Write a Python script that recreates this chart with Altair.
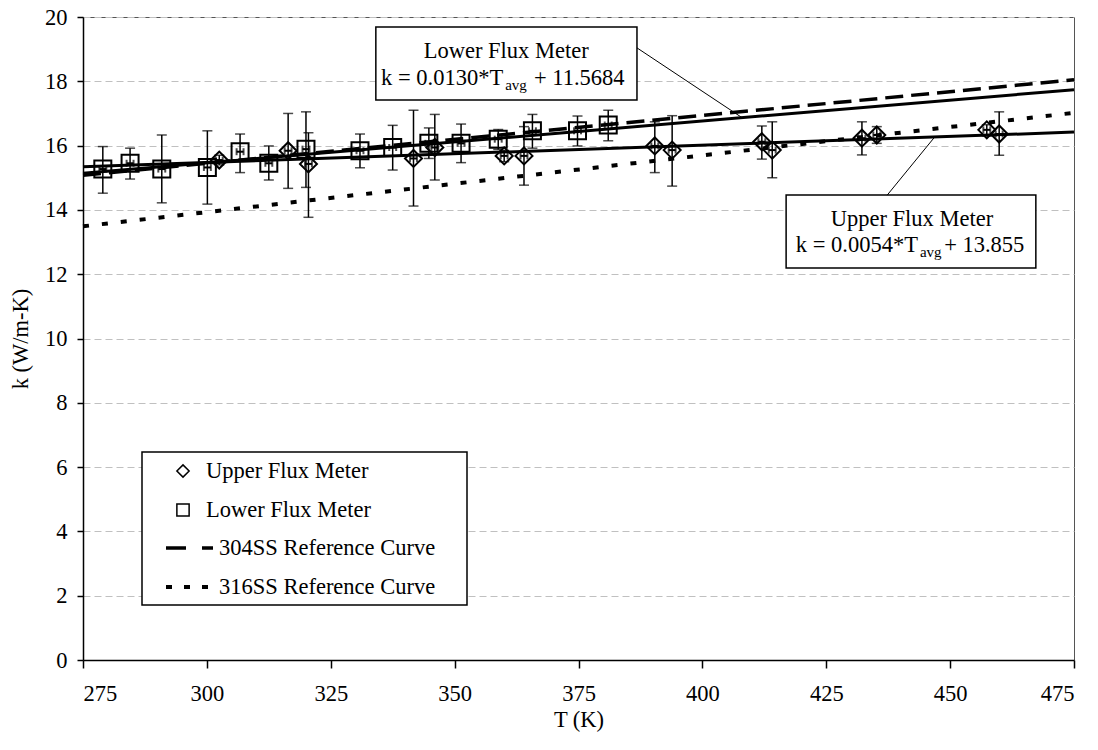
import altair as alt
import pandas as pd

FONT = "Liberation Serif"

# ---- data ----
lower_T = [279.0, 284.5, 290.9, 300.1, 306.7, 312.5, 320.0, 330.9, 337.5, 344.8, 351.3, 358.8, 365.7, 374.8, 381.0]
lower_k = [15.27, 15.45, 15.27, 15.32, 15.81, 15.45, 15.89, 15.84, 15.94, 16.07, 16.07, 16.20, 16.46, 16.46, 16.64]
lower_hi = [15.97, 15.92, 16.33, 16.46, 16.36, 15.99, 17.05, 16.36, 16.63, 16.55, 16.67, 16.50, 16.97, 16.92, 17.10]
lower_lo = [14.52, 14.96, 14.22, 14.18, 15.16, 14.93, 14.70, 15.31, 15.24, 15.60, 15.47, 15.88, 15.92, 15.99, 16.15]

upper_T = [302.5, 316.4, 320.5, 341.7, 346.0, 360.0, 364.0, 390.4, 393.9, 412.0, 414.1, 432.2, 435.2, 457.4, 459.9]
upper_k = [15.55, 15.84, 15.43, 15.60, 15.94, 15.68, 15.68, 15.99, 15.86, 16.12, 15.86, 16.23, 16.33, 16.49, 16.36]
upper_hi = [15.70, 17.00, 16.40, 17.10, 16.97, 15.85, 16.59, 16.74, 16.93, 16.61, 16.74, 16.74, 16.59, 16.65, 17.05]
upper_lo = [15.40, 14.67, 13.77, 14.12, 14.93, 15.50, 14.77, 15.16, 14.74, 15.58, 15.00, 15.71, 16.07, 16.30, 15.70]

x_err = 0.7  # small horizontal error bar (K)

fit_T = [275, 475]
lower_fit_k = [15.14, 17.74]   # k = 0.0130*T + 11.5684
upper_fit_k = [15.34, 16.42]   # k = 0.0054*T + 13.855

ss304_T = [275, 475]
ss304_k = [15.08, 18.05]
ss316_T = [275, 475]
ss316_k = [13.49, 17.02]

x_ticks = [275, 300, 325, 350, 375, 400, 425, 450, 475]
y_ticks = [0, 2, 4, 6, 8, 10, 12, 14, 16, 18, 20]

# ---- scales ----
xs = alt.Scale(domain=[275, 475], nice=False, zero=False)
ys = alt.Scale(domain=[0, 20], nice=False, zero=True)

X = alt.X("T:Q", scale=xs, axis=alt.Axis(
    values=x_ticks, title="T (K)", grid=False, tickSize=8, labelPadding=14,
    titlePadding=4))
Y = alt.Y("k:Q", scale=ys, axis=alt.Axis(
    values=y_ticks, title="k (W/m-K)", grid=True, gridDash=[7, 4],
    gridColor="#c0c0c0", gridWidth=1, tickSize=6, labelPadding=10,
    titlePadding=12))


def pts(T, k, lo, hi):
    return pd.DataFrame({"T": T, "k": k, "lo": lo, "hi": hi,
                         "Tl": [t - x_err for t in T], "Tr": [t + x_err for t in T]})


up = pts(upper_T, upper_k, upper_lo, upper_hi)
lw = pts(lower_T, lower_k, lower_lo, lower_hi)


def errlayers(df):
    base = alt.Chart(df)
    return [
        base.mark_rule(color="black", strokeWidth=1.5).encode(x=X, y=alt.Y("lo:Q", scale=ys), y2="hi:Q"),
        base.mark_tick(color="black", orient="horizontal", size=10, thickness=1.5).encode(x=X, y=alt.Y("lo:Q", scale=ys)),
        base.mark_tick(color="black", orient="horizontal", size=10, thickness=1.5).encode(x=X, y=alt.Y("hi:Q", scale=ys)),
        base.mark_rule(color="black", strokeWidth=2).encode(x=alt.X("Tl:Q", scale=xs), x2="Tr:Q", y=Y),
        base.mark_tick(color="black", orient="vertical", size=7, thickness=2).encode(x=alt.X("Tl:Q", scale=xs), y=Y),
        base.mark_tick(color="black", orient="vertical", size=7, thickness=2).encode(x=alt.X("Tr:Q", scale=xs), y=Y),
    ]


def line(T, k, dash=None, width=3):
    kw = dict(color="black", strokeWidth=width)
    if dash:
        kw["strokeDash"] = dash
    return alt.Chart(pd.DataFrame({"T": T, "k": k})).mark_line(**kw).encode(x=X, y=Y)


layers = []
layers.append(line(ss316_T, ss316_k, dash=[6, 13], width=4))
layers.append(line(ss304_T, ss304_k, dash=[18, 8], width=3.5))
layers.append(line(fit_T, lower_fit_k, width=3))
layers.append(line(fit_T, upper_fit_k, width=3))
layers += errlayers(up)
layers += errlayers(lw)
layers.append(alt.Chart(up).mark_point(shape="diamond", size=289, filled=False, color="black", strokeWidth=2, opacity=1).encode(x=X, y=Y))
layers.append(alt.Chart(lw).mark_point(shape="square", size=289, filled=False, color="black", strokeWidth=2, opacity=1).encode(x=X, y=Y))

# ---- annotation boxes (data coordinates) ----
boxes = pd.DataFrame({"x1": [334.1, 416.9], "x2": [386.8, 467.3],
                      "y1": [19.69, 14.46], "y2": [17.42, 12.19]})
layers.append(alt.Chart(boxes).mark_rect(fill="white", stroke="black", strokeWidth=1.5).encode(
    x=alt.X("x1:Q", scale=xs), x2="x2:Q", y=alt.Y("y1:Q", scale=ys), y2="y2:Q"))

leaders = pd.DataFrame({"x1": [386.8, 437.3], "x2": [408.0, 446.9],
                        "y1": [19.04, 14.46], "y2": [16.87, 16.27]})
layers.append(alt.Chart(leaders).mark_rule(color="black", strokeWidth=1).encode(
    x=alt.X("x1:Q", scale=xs), x2="x2:Q", y=alt.Y("y1:Q", scale=ys), y2="y2:Q"))

FS = 22.5
SUB = 15


def txt(rows, align, size):
    df = pd.DataFrame(rows, columns=["T", "k", "t"])
    return alt.Chart(df).mark_text(font=FONT, fontSize=size, align=align, baseline="alphabetic", color="black").encode(
        x=alt.X("T:Q", scale=xs), y=alt.Y("k:Q", scale=ys), text="t:N")


layers.append(txt([[360.4, 18.72, "Lower Flux Meter"], [442.3, 13.50, "Upper Flux Meter"]], "center", FS))
layers.append(txt([[359.8, 17.88, "k = 0.0130*T"], [443.5, 12.69, "k = 0.0054*T"]], "right", FS))
layers.append(txt([[360.2, 17.73, "avg"], [443.9, 12.53, "avg"]], "left", SUB))
layers.append(txt([[366.0, 17.88, "+ 11.5684"], [448.8, 12.69, "+ 13.855"]], "left", FS))

# ---- manual legend (pixel positions inside plot area) ----
one = pd.DataFrame({"a": [0]})
OX, OY = 83, 17
layers.append(alt.Chart(one).mark_rect(fill="white", stroke="black", strokeWidth=1.5).encode(
    x=alt.value(142 - OX), x2=alt.value(467 - OX), y=alt.value(452 - OY), y2=alt.value(605 - OY)))
rows_y = [471, 510, 548, 587]
layers.append(alt.Chart(one).mark_point(shape="diamond", size=150, filled=False, color="black", strokeWidth=1.5, opacity=1).encode(
    x=alt.value(183 - OX), y=alt.value(rows_y[0] - OY)))
layers.append(alt.Chart(one).mark_point(shape="square", size=150, filled=False, color="black", strokeWidth=1.5, opacity=1).encode(
    x=alt.value(183 - OX), y=alt.value(rows_y[1] - OY)))
layers.append(alt.Chart(one).mark_rule(color="black", strokeWidth=3.5, strokeDash=[20, 16]).encode(
    x=alt.value(166 - OX), x2=alt.value(213 - OX), y=alt.value(rows_y[2] - OY)))
layers.append(alt.Chart(one).mark_rule(color="black", strokeWidth=4, strokeDash=[6, 12]).encode(
    x=alt.value(166 - OX), x2=alt.value(213 - OX), y=alt.value(rows_y[3] - OY)))
leg_labels = ["Upper Flux Meter", "Lower Flux Meter", "304SS Reference Curve", "316SS Reference Curve"]
leg_x = [206, 206, 219, 219]
for lab, lx, ly in zip(leg_labels, leg_x, rows_y):
    layers.append(alt.Chart(one).mark_text(font=FONT, fontSize=FS, align="left", baseline="middle", color="black").encode(
        x=alt.value(lx - OX), y=alt.value(ly - OY), text=alt.value(lab)))

chart = alt.layer(*layers).properties(
    width=991, height=643,
    autosize=alt.AutoSizeParams(type="none"),
    padding={"left": 83, "top": 17, "right": 24, "bottom": 90},
    background="white",
).configure_view(stroke="#555555", strokeWidth=1).configure_axis(
    labelFont=FONT, titleFont=FONT, labelFontSize=FS, titleFontSize=FS,
    titleFontWeight="normal", labelColor="black", titleColor="black",
    domainColor="black", tickColor="black", domainWidth=1.5, tickWidth=1.5,
)

chart.save("out.html", embed_options={"renderer": "svg", "actions": False})
